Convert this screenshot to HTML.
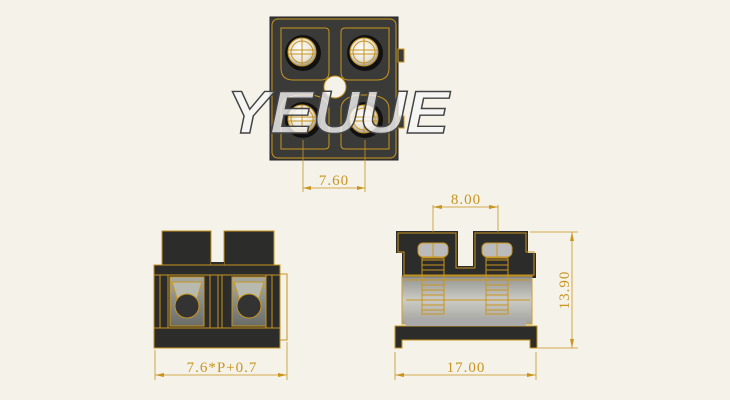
<!DOCTYPE html>
<html><head><style>html,body{margin:0;padding:0;background:#f5f2e9;}svg{display:block}</style></head>
<body>
<svg width="730" height="400" viewBox="0 0 730 400" xmlns="http://www.w3.org/2000/svg" font-family="Liberation Serif, serif">
<rect width="730" height="400" fill="#f5f2e9"/>
<defs>
<radialGradient id="bolt" cx="0.45" cy="0.4" r="0.6"><stop offset="0" stop-color="#fff"/><stop offset="0.7" stop-color="#e8e4d8"/><stop offset="1" stop-color="#999"/></radialGradient>
<linearGradient id="win" x1="0" y1="0" x2="0" y2="1"><stop offset="0" stop-color="#a8aaa2"/><stop offset="1" stop-color="#6a6c68"/></linearGradient>
<linearGradient id="glass" x1="0" y1="0" x2="0" y2="1"><stop offset="0" stop-color="#8a8a86"/><stop offset="0.5" stop-color="#c8c8c2"/><stop offset="1" stop-color="#9a9a96"/></linearGradient>
</defs>
<g stroke="#c8951e" fill="none" stroke-width="1">
<!-- TOP VIEW -->
<rect x="270" y="17" width="128" height="143" fill="#3a3a38" stroke="#222"/>
<rect x="272" y="19" width="124" height="139" rx="6"/>
<rect x="398" y="49" width="6" height="13" fill="#3a3a38"/>
<rect x="398" y="116" width="6" height="12" fill="#3a3a38"/>
<g>
<path d="M281 28 h44 q4 0 4 4 v40 q0 8 -8 8 h-28 q-12 0 -12 -12 z"/>
<path d="M389 28 h-44 q-4 0 -4 4 v40 q0 8 8 8 h28 q12 0 12 -12 z"/>
<path d="M281 149 h44 q4 0 4 -4 v-36 q0 -12 -18 -14 h-12 q-18 2 -18 14 z"/>
<path d="M389 149 h-44 q-4 0 -4 -4 v-36 q0 -12 18 -14 h12 q18 2 18 14 z"/>
</g>
<g stroke-width="1">
<circle cx="303" cy="53" r="18" fill="#111" stroke="none"/>
<circle cx="365" cy="53" r="18" fill="#111" stroke="none"/>
<circle cx="303" cy="120" r="18" fill="#111" stroke="none"/>
<circle cx="365" cy="120" r="18" fill="#111" stroke="none"/>
<circle cx="302" cy="52" r="14" fill="url(#bolt)"/>
<circle cx="364" cy="52" r="14" fill="url(#bolt)"/>
<circle cx="302" cy="119" r="14" fill="url(#bolt)"/>
<circle cx="364" cy="119" r="14" fill="url(#bolt)"/>
<circle cx="302" cy="52" r="11"/><circle cx="364" cy="52" r="11"/><circle cx="302" cy="119" r="11"/><circle cx="364" cy="119" r="11"/>
<path d="M288 50h28M288 54h28M350 50h28M350 54h28M288 117h28M288 121h28M350 117h28M350 121h28M302 38v28M364 38v28M302 105v28M364 105v28"/>
</g>
<circle cx="335" cy="87" r="11" fill="#f5f2e9" stroke="#c8951e"/>
<text x="338" y="133" font-family="Liberation Sans, sans-serif" font-style="italic" font-weight="bold" font-size="60" textLength="222" lengthAdjust="spacingAndGlyphs" text-anchor="middle" fill="rgba(245,245,245,0.8)" stroke="#444" stroke-width="1.4">YEUUE</text>
<!-- dim 7.60 -->
<path d="M303 140V192M365 140V192M303 188H365" stroke-width="0.8"/>
<path d="M303 188l8-2v4zM365 188l-8-2v4z" fill="#c8951e" stroke="none"/>
<text x="334" y="185" font-size="15" fill="#c8951e" stroke="none" text-anchor="middle" letter-spacing="1">7.60</text>

<!-- BOTTOM LEFT -->
<rect x="162" y="231" width="49" height="34" fill="#2c2c2a"/>
<rect x="224" y="231" width="50" height="34" fill="#2c2c2a"/>
<rect x="211" y="262" width="13" height="4" fill="#2c2c2a" stroke="none"/>
<rect x="154" y="265" width="126" height="83" fill="#2c2c2a"/>
<path d="M154 275H280M154 328H280M160 275V328M168 275V328M210 275V328M218 275V328M222 275V328M266 275V328M272 275V328"/>
<rect x="170" y="277" width="34" height="49" fill="url(#win)"/>
<rect x="232" y="277" width="34" height="49" fill="url(#win)"/>
<path d="M172 282h30l-8 26h-14z M234 282h30l-8 26h-14z" fill="#b8bab0"/>
<circle cx="187" cy="306" r="12" fill="#333"/>
<circle cx="249" cy="306" r="12" fill="#333"/>
<path d="M280 274h7v66h-7"/>
<path d="M155 350V380M287 342V380M155 375H287" stroke-width="0.8"/>
<path d="M155 375l9-2v4zM287 375l-9-2v4z" fill="#c8951e" stroke="none"/>
<text x="222" y="372" font-size="15" fill="#c8951e" stroke="none" text-anchor="middle" letter-spacing="1">7.6*P+0.7</text>

<!-- BOTTOM RIGHT -->
<path d="M403 231H458V266H473V231H528V253H536V278H402V253H396V231Z" fill="#2c2c2a" stroke="none"/>
<path d="M406 233H456V268H475V233H526V252H534V275H404V252H398V233Z" fill="none"/>
<rect x="402" y="276" width="130" height="48" fill="url(#glass)" opacity="0.9"/>
<path d="M406 280h124M406 300h124M412 322h112"/>
<path d="M395 326H537V348H530V340H402V348H395Z" fill="#2c2c2a"/>
<rect x="406" y="318" width="120" height="8" fill="#aaa" stroke="none"/>
<g>
<rect x="418" y="243" width="30" height="14" rx="5" fill="#bbb"/>
<rect x="482" y="243" width="30" height="14" rx="5" fill="#bbb"/>
<path d="M433 243v14M497 243v14"/>
<path d="M422 260h22M422 265h22M422 270h22M422 275h22M422 280h22M422 285h22M422 290h22M422 295h22M422 300h22M422 305h22M422 310h22"/>
<path d="M486 260h22M486 265h22M486 270h22M486 275h22M486 280h22M486 285h22M486 290h22M486 295h22M486 300h22M486 305h22M486 310h22"/>
<rect x="422" y="258" width="22" height="56"/><rect x="486" y="258" width="22" height="56"/>
</g>
<path d="M433 205V232M498 205V232M433 207H498" stroke-width="0.8"/>
<path d="M433 207l9-2v4zM498 207l-9-2v4z" fill="#c8951e" stroke="none"/>
<text x="466" y="204" font-size="15" fill="#c8951e" stroke="none" text-anchor="middle" letter-spacing="1">8.00</text>
<path d="M530 232H578M538 348H578M572 232V348" stroke-width="0.8"/>
<path d="M572 232l-2 9h4zM572 348l-2-9h4z" fill="#c8951e" stroke="none"/>
<text x="0" y="0" transform="translate(569,290) rotate(-90)" font-size="15" fill="#c8951e" stroke="none" text-anchor="middle" letter-spacing="1">13.90</text>
<path d="M395 352V380M536 352V380M395 375H536" stroke-width="0.8"/>
<path d="M395 375l9-2v4zM536 375l-9-2v4z" fill="#c8951e" stroke="none"/>
<text x="466" y="372" font-size="15" fill="#c8951e" stroke="none" text-anchor="middle" letter-spacing="1">17.00</text>
</g>
</svg>
</body></html>
